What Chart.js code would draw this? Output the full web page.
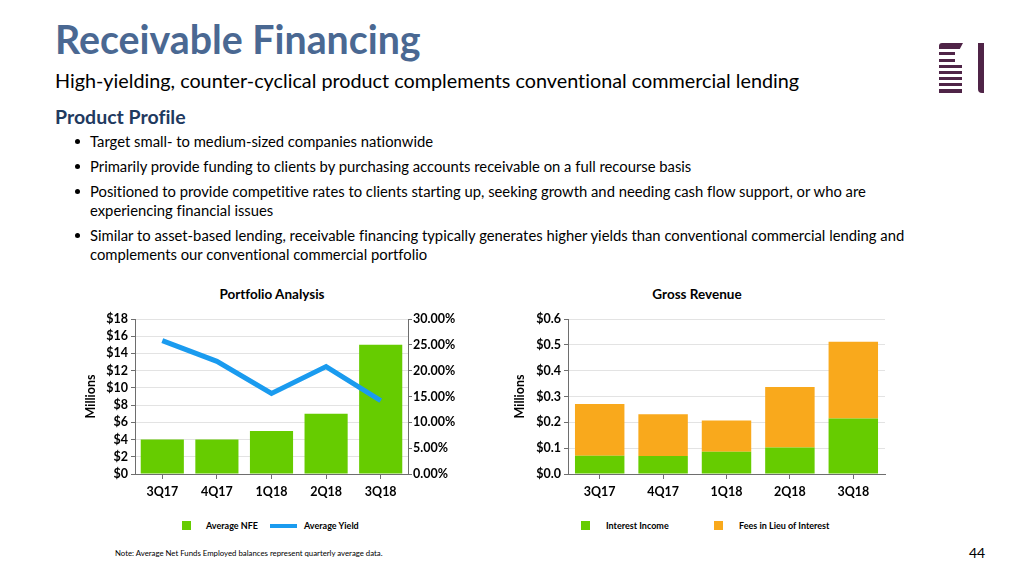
<!DOCTYPE html>
<html>
<head>
<meta charset="utf-8">
<script src="https://cdn.jsdelivr.net/npm/chart.js@4/dist/chart.umd.min.js"></script>
<style>
  html,body{margin:0;padding:0;background:#fff;}
  body{width:1024px;height:576px;position:relative;overflow:hidden;font-family:Lato,"Open Sans",sans-serif;color:#000;font-variant-ligatures:none;}
  .abs{position:absolute;white-space:nowrap;}
  #title{left:55px;top:19px;font-size:39.3px;line-height:40px;font-weight:700;color:#4a6892;}
  #subtitle{left:55px;top:70px;font-size:19.8px;line-height:20px;}
  #pp{left:55px;top:107px;font-size:19.5px;line-height:20px;font-weight:700;color:#1f3a5f;}
  .bul{left:90px;font-size:14.8px;line-height:19px;}
  .dot{position:absolute;left:-15px;top:7px;width:5px;height:5px;border-radius:50%;background:#000;}
  .ctitle{font-size:13.5px;font-weight:700;line-height:13px;text-align:center;}
  canvas{position:absolute;}
  .lg{font-size:9px;font-weight:700;line-height:10px;}
  .sq{position:absolute;width:9px;height:9px;}
  #note{left:115px;top:549px;font-size:7.8px;line-height:9px;}
  #pnum{left:969px;top:546px;font-size:14px;line-height:14px;}
  .logo{position:absolute;background:#4f2447;}
</style>
</head>
<body>
<div class="abs" id="title">Receivable Financing</div>
<div class="abs" id="subtitle">High-yielding, counter-cyclical product complements conventional commercial lending</div>
<div class="abs" id="pp">Product Profile</div>
<div class="abs bul" style="top:132px;"><span class="dot"></span>Target small- to medium-sized companies nationwide</div>
<div class="abs bul" style="top:157px;"><span class="dot"></span>Primarily provide funding to clients by purchasing accounts receivable on a full recourse basis</div>
<div class="abs bul" style="top:182px;"><span class="dot"></span>Positioned to provide competitive rates to clients starting up, seeking growth and needing cash flow support, or who are<br>experiencing financial issues</div>
<div class="abs bul" style="top:226px;"><span class="dot"></span>Similar to asset-based lending, receivable financing typically generates higher yields than conventional commercial lending and<br>complements our conventional commercial portfolio</div>

<!-- logo -->
<div class="logo" style="left:939px;top:43px;width:20px;height:6px;border-radius:3px 0 0 0;"></div>
<div class="logo" style="left:955px;top:43px;width:8px;height:6px;clip-path:polygon(0 0,100% 0,60% 100%,0 100%);"></div>
<div class="logo" style="left:939px;top:52px;width:16px;height:3px;"></div>
<div class="logo" style="left:939px;top:59px;width:16px;height:3px;"></div>
<div class="logo" style="left:939px;top:65px;width:23px;height:3px;"></div>
<div class="logo" style="left:939px;top:71px;width:23px;height:3px;"></div>
<div class="logo" style="left:939px;top:77px;width:23px;height:3px;"></div>
<div class="logo" style="left:939px;top:83px;width:23px;height:3px;"></div>
<div class="logo" style="left:939px;top:89px;width:23px;height:4px;"></div>
<div class="logo" style="left:978px;top:43px;width:6px;height:50px;border-radius:0 0 0 4px;"></div>

<div class="abs ctitle" style="left:172px;width:200px;top:288px;">Portfolio Analysis</div>
<div class="abs ctitle" style="left:597px;width:200px;top:288px;">Gross Revenue</div>

<canvas id="c1" width="420" height="210" style="left:60px;top:300px;"></canvas>
<canvas id="c2" width="400" height="210" style="left:500px;top:300px;"></canvas>

<!-- legends -->
<div class="sq" style="left:182px;top:521px;background:#66cc00;"></div>
<div class="abs lg" style="left:206px;top:521px;">Average NFE</div>
<div class="sq" style="left:270px;top:524px;width:27px;height:4px;background:#1a9bef;"></div>
<div class="abs lg" style="left:304px;top:521px;">Average Yield</div>
<div class="sq" style="left:581px;top:521px;background:#66cc00;"></div>
<div class="abs lg" style="left:606px;top:521px;">Interest Income</div>
<div class="sq" style="left:714px;top:521px;background:#f9a91c;"></div>
<div class="abs lg" style="left:739px;top:521px;">Fees in Lieu of Interest</div>

<div class="abs" id="note">Note: Average Net Funds Employed balances represent quarterly average data.</div>
<div class="abs" id="pnum">44</div>

<script>
const categories = ['3Q17', '4Q17', '1Q18', '2Q18', '3Q18'];
const averageNFE = [4, 4, 5, 7, 15];            // $ millions
const averageYield = [25.8, 21.8, 15.6, 20.8, 14.2]; // percent
const interestIncome = [0.071, 0.070, 0.086, 0.103, 0.215]; // $ millions
const feesInLieu = [0.200, 0.161, 0.121, 0.234, 0.297];     // $ millions

const GREEN = '#66cc00', BLUE = '#1a9bef', ORANGE = '#f9a91c';
const AXIS = '#6e6e6e', GRID = '#e3e3e3';
const tickFont = {family: 'Lato', size: 12.5, weight: '700'};

function fixW(w){ return function(s){ s.width = w; }; }
function fixH(h){ return function(s){ s.height = h; }; }

new Chart(document.getElementById('c1'), {
  data: {
    labels: categories,
    datasets: [
      {type: 'line', label: 'Average Yield', data: averageYield, yAxisID: 'y1',
       borderColor: BLUE, borderWidth: 5, pointRadius: 0, tension: 0, order: 0,
       borderCapStyle: 'butt', borderJoinStyle: 'miter'},
      {type: 'bar', label: 'Average NFE', data: averageNFE, yAxisID: 'y',
       backgroundColor: GREEN, categoryPercentage: 1, barPercentage: 0.79, order: 1}
    ]
  },
  options: {
    responsive: false, animation: false, devicePixelRatio: 1,
    layout: {padding: {left: 20, top: 19, right: 0, bottom: 0}},
    plugins: {legend: {display: false}, tooltip: {enabled: false}},
    scales: {
      x: {
        afterFit: fixH(36),
        grid: {display: true, drawOnChartArea: false, drawTicks: true, tickLength: 5, tickColor: AXIS, offset: false},
        border: {color: AXIS, width: 1},
        ticks: {font: tickFont, color: '#000', padding: 5}
      },
      y: {
        position: 'left', min: 0, max: 18,
        afterFit: fixW(55),
        grid: {color: GRID, tickLength: 4, tickColor: AXIS},
        border: {color: AXIS, width: 1},
        ticks: {stepSize: 2, autoSkip: false, font: tickFont, color: '#000', padding: 3, callback: v => '$' + v},
        title: {display: true, text: 'Millions', font: tickFont, color: '#000', padding: {top: 3, bottom: 0}}
      },
      y1: {
        position: 'right', min: 0, max: 30,
        afterFit: fixW(72),
        grid: {drawOnChartArea: false, tickLength: 4, tickColor: AXIS},
        border: {color: AXIS, width: 1},
        ticks: {stepSize: 5, autoSkip: false, font: tickFont, color: '#000', padding: 1, callback: v => v.toFixed(2) + '%'}
      }
    }
  }
});

new Chart(document.getElementById('c2'), {
  type: 'bar',
  data: {
    labels: categories,
    datasets: [
      {label: 'Interest Income', data: interestIncome, backgroundColor: GREEN, categoryPercentage: 1, barPercentage: 0.78},
      {label: 'Fees in Lieu of Interest', data: feesInLieu, backgroundColor: ORANGE, categoryPercentage: 1, barPercentage: 0.78}
    ]
  },
  options: {
    responsive: false, animation: false, devicePixelRatio: 1,
    layout: {padding: {left: 9, top: 19, right: 15, bottom: 0}},
    plugins: {legend: {display: false}, tooltip: {enabled: false}},
    scales: {
      x: {
        stacked: true,
        afterFit: fixH(36),
        grid: {display: true, drawOnChartArea: false, drawTicks: true, tickLength: 5, tickColor: AXIS, offset: false},
        border: {color: AXIS, width: 1},
        ticks: {font: tickFont, color: '#000', padding: 5}
      },
      y: {
        stacked: true, min: 0, max: 0.6,
        afterFit: fixW(59),
        grid: {color: GRID, tickLength: 4, tickColor: AXIS},
        border: {color: AXIS, width: 1},
        ticks: {stepSize: 0.1, autoSkip: false, font: tickFont, color: '#000', padding: 3, callback: v => '$' + v.toFixed(1)},
        title: {display: true, text: 'Millions', font: tickFont, color: '#000', padding: {top: 3, bottom: 0}}
      }
    }
  }
});
</script>
</body>
</html>
